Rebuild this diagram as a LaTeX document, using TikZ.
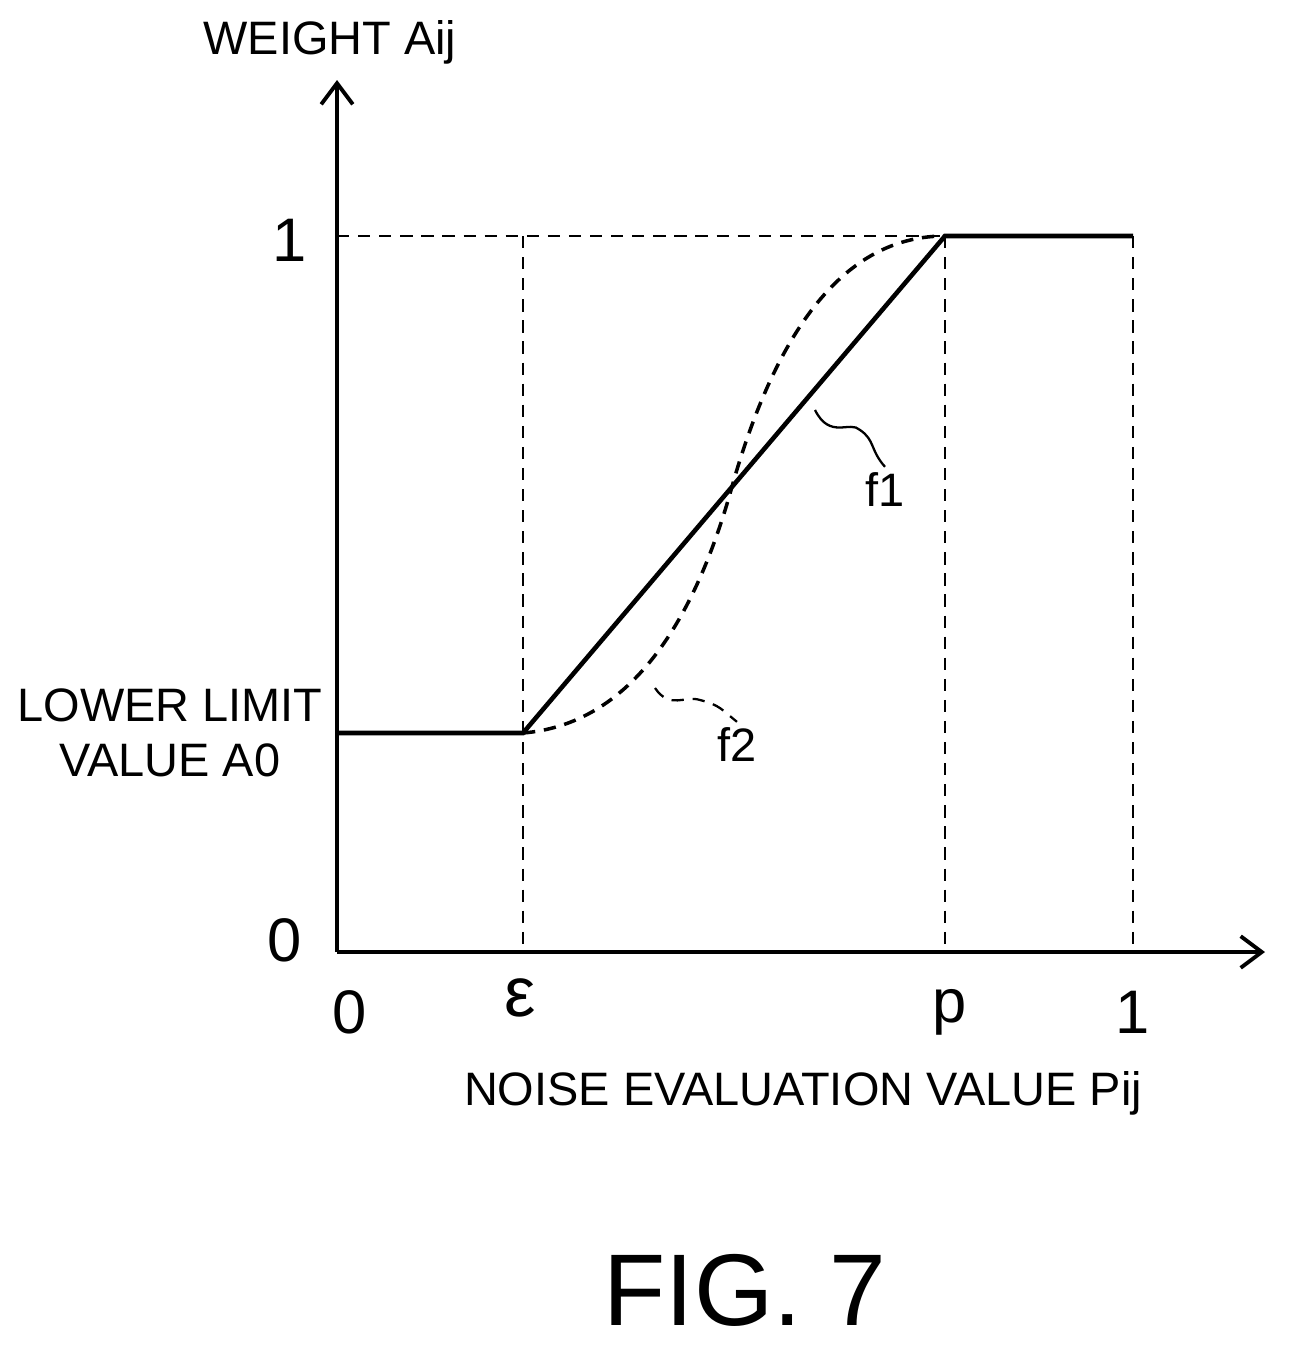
\documentclass[tikz,border=0pt]{standalone}
\usepackage{fontspec}
\setmainfont{Liberation Sans}
\usetikzlibrary{arrows.meta}
\begin{document}
\begin{tikzpicture}[x=0.02cm, y=-0.02cm,
    axis/.style={line width=2.2pt, -{Straight Barb[length=12pt,width=18pt]}},
    guide/.style={dashed, line width=1.3pt, dash pattern=on 7pt off 5pt},
    curve/.style={line width=2.6pt},
    label/.style={font=\fontsize{26.7}{31}\selectfont},
    num/.style={font=\fontsize{35}{40}\selectfont}]
    \useasboundingbox (0,0) rectangle (1289,1352);

    % axes
    \coordinate (o) at (337,952);
    \coordinate (ytop) at (337,80);
    \coordinate (xend) at (1265,952);
    \draw[axis] (o) -- (ytop);
    \draw[axis] (o) -- (xend);

    % guides
    \coordinate (one) at (337,236);
    \coordinate (eps) at (523,952);
    \coordinate (epstop) at (523,236);
    \coordinate (p) at (945,952);
    \coordinate (ptop) at (945,236);
    \coordinate (xone) at (1133,952);
    \coordinate (xonetop) at (1133,236);
    \draw[guide] (one) -- (ptop);
    \draw[guide] (epstop) -- (eps);
    \draw[guide] (ptop) -- (p);
    \draw[guide] (xonetop) -- (xone);

    % f1
    \coordinate (a0) at (337,733);
    \coordinate (knee) at (523,733);
    \draw[curve] (a0) -- (knee) -- (ptop) -- (xonetop);

    % f2
    \coordinate (mid) at (733,483);
    \draw[guide, line width=2pt] (knee) .. controls (620,725) and (690,640) .. (mid)
        .. controls (780,320) and (850,236) .. (ptop);

    % leaders
    \node[label] (f1) at (885,490) {f1};
    \node[label] (f2) at (737,745) {f2};
    \draw[line width=1.3pt] (815,410) .. controls (830,440) and (850,420) .. (860,430)
        .. controls (875,440) and (870,450) .. (f1.north);
    \draw[guide] (655,688) .. controls (670,710) and (685,695) .. (700,700)
        .. controls (720,705) and (722,710) .. (f2.north);

    % texts
    \node[label] (ylab) at (330,42) {WEIGHT Aij};
    \node[label] (xlab) at (803,1093) {NOISE EVALUATION VALUE Pij};
    \node[label, align=center] (lower) at (170,733) {LOWER LIMIT\\VALUE A0};
    \node[num] (yone) at (290,240) {1};
    \node[num] (yzero) at (285,940) {0};
    \node[num] (xzero) at (350,1012) {0};
    \node[num, font=\fontsize{40}{44}\selectfont] (xeps) at (520,998) {ε};
    \node[num] (xp) at (950,1012) {p};
    \node[num] (x1) at (1133,1012) {1};
    \node[font=\fontsize{58}{62}\selectfont] (fig) at (745,1290) {FIG. 7};
\end{tikzpicture}
\end{document}
